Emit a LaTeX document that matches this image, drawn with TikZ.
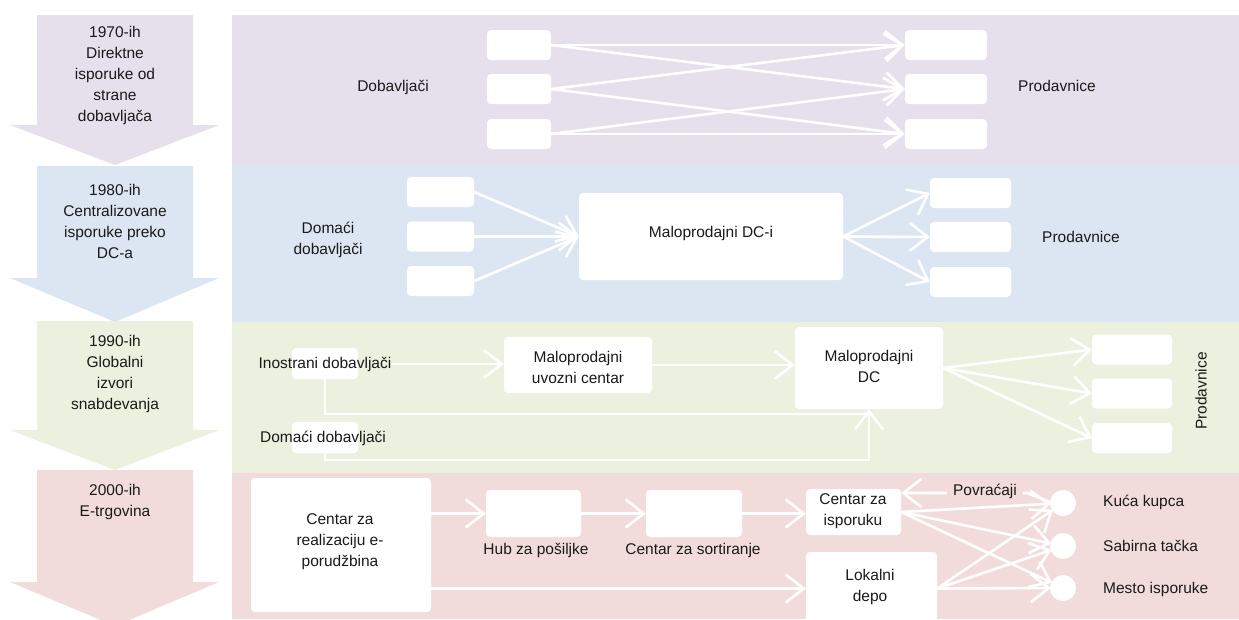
\documentclass[tikz,border=0pt]{standalone}
\usepackage{fontspec}
\setmainfont{Liberation Sans}
\usetikzlibrary{arrows.meta}

\definecolor{bandA}{HTML}{E5E0EC}
\definecolor{bandB}{HTML}{DCE6F2}
\definecolor{bandC}{HTML}{EBF1DE}
\definecolor{bandD}{HTML}{F2DCDB}
\definecolor{ink}{HTML}{1A1A1A}

\tikzset{
  txt/.style={font=\fontsize{15.5}{21}\selectfont, text=ink, inner sep=0pt, align=center},
  wbox/.style={fill=white, rounded corners=4pt, inner sep=0pt, draw=none},
  flow/.style={draw=white, line width=2.6pt,
    -{Straight Barb[length=18pt,width=28pt,line width=2.6pt]}},
  link/.style={draw=white, line width=2.6pt},
  dot/.style={circle, fill=white, minimum size=26pt, inner sep=0pt},
}

\begin{document}
\begin{tikzpicture}[x=1pt,y=-1pt]
\path[use as bounding box, clip] (0,0) rectangle (1239,619);
\fill[white] (0,0) rectangle (1239,619);

% ---- era chevrons on the left
\fill[bandA] (37,15) -- (193,15) -- (193,125) -- (219,125) -- (115,165) -- (10,125) -- (37,125) -- cycle;
\fill[bandB] (37,166) -- (193,166) -- (193,278) -- (219,278) -- (115,322) -- (10,278) -- (37,278) -- cycle;
\fill[bandC] (37,321) -- (193,321) -- (193,430) -- (219,430) -- (115,470) -- (10,430) -- (37,430) -- cycle;
\fill[bandD] (37,470) -- (193,470) -- (193,582) -- (219,582) -- (115,626) -- (10,582) -- (37,582) -- cycle;

\node[txt] (eraA) at (115,75) {1970-ih\\Direktne\\isporuke od\\strane\\dobavljača};
\node[txt] (eraB) at (115,221) {1980-ih\\Centralizovane\\isporuke preko\\DC-a};
\node[txt] (eraC) at (115,374) {1990-ih\\Globalni\\izvori\\snabdevanja};
\node[txt] (eraD) at (115,502) {2000-ih\\E-trgovina};

% ---- background bands
\fill[bandA] (232,15) rectangle (1239,165);
\fill[bandB] (232,165) rectangle (1239,322);
\fill[bandC] (232,322) rectangle (1239,473);
\fill[bandD] (232,473) rectangle (1239,619);

% ---- 1970s: direct deliveries
\node[txt] (supA) at (393,87) {Dobavljači};
\node[txt] (shopA) at (1057,86) {Prodavnice};
\foreach \i/\y in {1/45,2/89,3/134}{
  \node[wbox, minimum width=64pt, minimum height=30pt] (a\i) at (519,\y) {};
  \node[wbox, minimum width=82pt, minimum height=30pt] (b\i) at (946,\y) {};
}
\draw[flow] (a1.east) -- (b1.west);
\draw[flow] (a1.east) -- (b2.west);
\draw[flow] (a2.east) -- (b1.west);
\draw[flow] (a2.east) -- (b3.west);
\draw[flow] (a3.east) -- (b2.west);
\draw[flow] (a3.east) -- (b3.west);

% ---- 1980s: central DC
\node[txt] (supB) at (328,240) {Domaći\\dobavljači};
\node[txt] (shopB) at (1081,237) {Prodavnice};
\node[wbox, minimum width=264pt, minimum height=87pt] (dcB) at (711,236.5) {};
\node[txt] (dcBt) at (711,233) {Maloprodajni DC-i};
\foreach \i/\y in {1/192,2/236.5,3/281}{
  \node[wbox, minimum width=67pt, minimum height=30pt] (c\i) at (440.5,\y) {};
  \draw[flow] (c\i.east) -- (dcB.west);
}
\foreach \i/\y in {1/193,2/237,3/282}{
  \node[wbox, minimum width=81pt, minimum height=30pt] (d\i) at (970.5,\y) {};
  \draw[flow] (dcB.east) -- (d\i.west);
}

% ---- 1990s: global sourcing
\node[wbox, minimum width=66pt, minimum height=31pt] (ino) at (325,363.5) {};
\node[txt] (inoT) at (325,364) {Inostrani dobavljači};
\node[wbox, minimum width=66pt, minimum height=31pt] (dom) at (325,437.5) {};
\node[txt] (domT) at (323,438) {Domaći dobavljači};
\node[wbox, minimum width=148pt, minimum height=56pt] (uvoz) at (578,365) {};
\node[txt] (uvozT) at (578,367) {Maloprodajni\\uvozni centar};
\node[wbox, minimum width=148pt, minimum height=82pt] (dcC) at (869,368) {};
\node[txt] (dcCt) at (869,366) {Maloprodajni\\DC};
\foreach \i/\y in {1/349.5,2/393.5,3/438}{
  \node[wbox, minimum width=80pt, minimum height=30pt] (e\i) at (1132,\y) {};
  \draw[flow] (dcC.east) -- (e\i.west);
}
\node[txt, rotate=90] (shopC) at (1201,391) {Prodavnice};

\coordinate (m1) at (869,414);
\coordinate (m2) at (869,460);
\draw[flow] (inoT.east) -- (inoT.east -| uvoz.west);
\draw[flow] (uvoz.east) -- (uvoz.east -| dcC.west);
\draw[link] (ino.south) |- (m1);
\draw[flow] (dom.south) |- (m2) -- (dcC.south);

% ---- 2000s: e-commerce
\node[wbox, minimum width=180pt, minimum height=134pt] (cent) at (341,545) {};
\node[txt] (centT) at (340,542) {Centar za\\realizaciju e-\\porudžbina};
\node[wbox, minimum width=95pt, minimum height=47pt] (hub) at (533.5,513.5) {};
\node[txt] (hubT) at (536,550) {Hub za pošiljke};
\node[wbox, minimum width=96pt, minimum height=47pt] (sort) at (694,513.5) {};
\node[txt] (sortT) at (693,550) {Centar za sortiranje};
\node[wbox, minimum width=95pt, minimum height=46pt] (isp) at (853.5,512) {};
\node[txt] (ispT) at (853,511.5) {Centar za\\isporuku};
\node[wbox, minimum width=131pt, minimum height=73pt] (depo) at (871.5,588.5) {};
\node[txt] (depoT) at (870,587) {Lokalni\\depo};

\draw[flow] (cent.east |- hub.west) -- (hub.west);
\draw[flow] (hub.east) -- (sort.west);
\draw[flow] (sort.east) -- (sort.east -| isp.west);
\draw[flow] (cent.east |- depo.west) -- (depo.west);

\coordinate (r1) at (1063,503);
\coordinate (r2) at (1063,546);
\coordinate (r3) at (1063,588);
\foreach \k in {1,2,3}{
  \draw[flow, shorten >=12pt] (isp.east) -- (r\k);
  \draw[flow, shorten >=12pt] (depo.east) -- (r\k);
}
\coordinate (pv) at (1027,493);
\draw[flow] (r1) ++(-13,-1) -- (pv) -- (pv -| isp.east);
\node[txt, fill=bandD, inner xsep=6pt, inner ysep=3pt] (povT) at (985,491) {Povraćaji};

\node[dot] (k1) at (r1) {};
\node[dot] (k2) at (r2) {};
\node[dot] (k3) at (r3) {};
\node[txt, anchor=west] (k1T) at (1103,502) {Kuća kupca};
\node[txt, anchor=west] (k2T) at (1103,546) {Sabirna tačka};
\node[txt, anchor=west] (k3T) at (1103,589) {Mesto isporuke};
\end{tikzpicture}
\end{document}
